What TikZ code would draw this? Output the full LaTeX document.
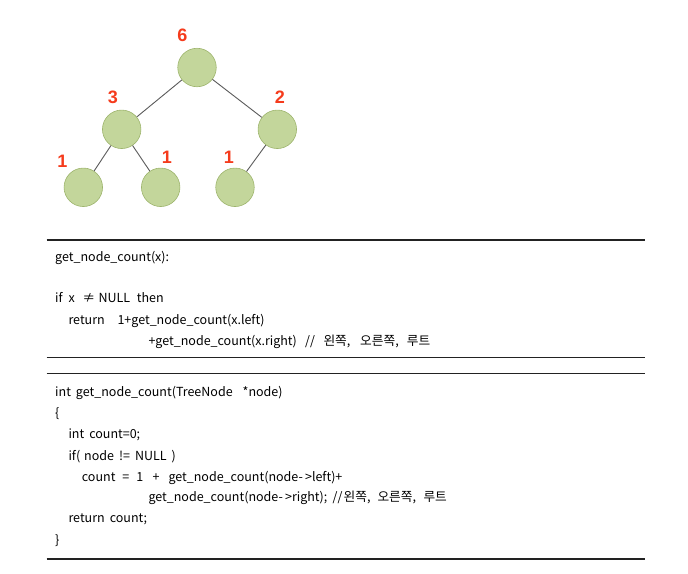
\documentclass[tikz,border=0pt]{standalone}
\usepackage{fontspec}
\setmainfont{Noto Sans CJK KR}
\newfontfamily\lblfont{Liberation Sans}
\newcommand\arrw{-\hspace{2.2pt}>}
\definecolor{nodefill}{HTML}{C3D69B}
\definecolor{nodeline}{HTML}{9DB46C}
\definecolor{edgecol}{HTML}{5A5A5A}
\definecolor{lblred}{HTML}{F53B1C}
\definecolor{rulecol}{HTML}{222222}
\begin{document}
\begin{tikzpicture}[x=1pt,y=-1pt,
  tnode/.style={circle,fill=nodefill,draw=nodeline,line width=0.6pt,minimum size=38.5pt,inner sep=0pt},
  edge/.style={draw=edgecol,line width=0.9pt},
  cnt/.style={text=lblred,font=\lblfont\bfseries\fontsize{18}{20}\selectfont,inner sep=0pt},
  code/.style={anchor=base west,inner sep=0pt,font=\fontsize{12.5}{14}\selectfont,text=black},
  kor/.style={anchor=base west,inner sep=0pt,font=\fontsize{12.7}{14}\selectfont,text=black},
  rule/.style={draw=rulecol,line width=1.3pt}]
\useasboundingbox (0,0) rectangle (688,573);
% tree
\node[tnode] (r) at (197,67.5) {};
\node[tnode] (a) at (121.7,129.3) {};
\node[tnode] (b) at (277.3,129.3) {};
\node[tnode] (c) at (83.3,187.3) {};
\node[tnode] (d) at (160.7,187.3) {};
\node[tnode] (e) at (235,187.3) {};
\draw[edge] (r) -- (a);
\draw[edge] (r) -- (b);
\draw[edge] (a) -- (c);
\draw[edge] (a) -- (d);
\draw[edge] (b) -- (e);
\node[cnt] (lr) at (182.5,35) {6};
\node[cnt] (la) at (113,97.5) {3};
\node[cnt] (lb) at (280,97.5) {2};
\node[cnt] (lc) at (62.5,161.5) {1};
\node[cnt] (ld) at (167,157) {1};
\node[cnt] (le) at (229,157.3) {1};
% rules
\coordinate (r1a) at (46.5,240); \coordinate (r1b) at (645,240);
\coordinate (r2a) at (46.5,357.5); \coordinate (r2b) at (645,357.5);
\coordinate (r3a) at (46.5,373.3); \coordinate (r3b) at (645,373.3);
\coordinate (r4a) at (46.5,559); \coordinate (r4b) at (645,559);
\draw[rule] (r1a) -- (r1b);
\draw[rule] (r2a) -- (r2b);
\draw[rule] (r3a) -- (r3b);
\draw[rule] (r4a) -- (r4b);
% block 1
\node[code] (p1) at (55,261.7) {get\_node\_count(x):};
\node[code] (p2a) at (55,302.7) {if};
\node[code] (p2b) at (68.3,302.7) {x};
\node[code] (p2c) at (82.5,302.7) {≠};
\node[code] (p2d) at (98.3,302.7) {NULL};
\node[code] (p2e) at (136.7,302.7) {then};
\node[code] (p3a) at (68.3,324.3) {return};
\node[code] (p3b) at (117.3,324.3) {1+get\_node\_count(x.left)};
\node[code] (p4a) at (148.3,345.9) {+get\_node\_count(x.right)};
\node[code] (p4b) at (305,345.9) {//};
\node[kor] (p4c) at (323.3,345.9) {왼쪽,};
\node[kor] (p4d) at (360,345.9) {오른쪽,};
\node[kor] (p4e) at (406.7,345.9) {루트};
% block 2
\node[code] (q1a) at (55,396.7) {int\hspace{5pt}get\_node\_count(TreeNode};
\node[code] (q1b) at (242.5,396.7) {*node)};
\node[code] (q2) at (55,417.8) {\{};
\node[code] (q3) at (68.3,438.9) {int\hspace{5pt}count=0;};
\node[code] (q4) at (68.3,460) {if(\hspace{4pt}node\hspace{5pt}!=\hspace{5pt}NULL\hspace{5pt})};
\node[code] (q5a) at (81.7,481) {count\hspace{7pt}=\hspace{7pt}1};
\node[code] (q5p) at (152.5,481) {+};
\node[code] (q5b) at (168.3,481) {get\_node\_count(node\arrw left)+};
\node[code] (q6a) at (148.3,501.9) {get\_node\_count(node\arrw right);};
\node[code] (q6b) at (332.5,501.9) {//};
\node[kor] (q6c) at (343.5,501.9) {왼쪽,};
\node[kor] (q6d) at (377.3,501.9) {오른쪽,};
\node[kor] (q6e) at (423.3,501.9) {루트};
\node[code] (q7) at (68.3,522.8) {return\hspace{5pt}count;};
\node[code] (q8) at (55,544) {\}};
\end{tikzpicture}
\end{document}
